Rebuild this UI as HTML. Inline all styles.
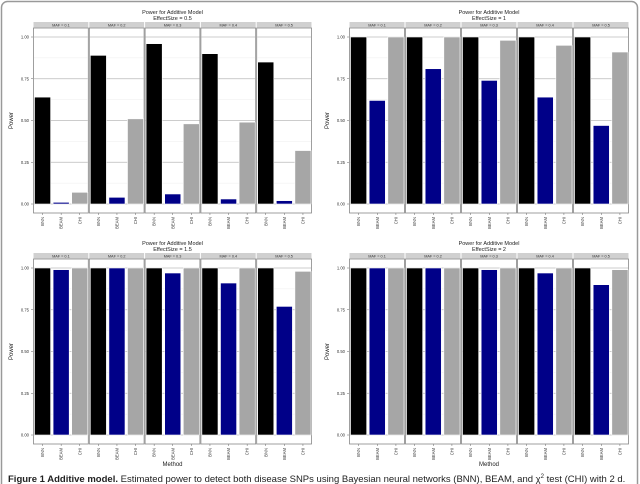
<!DOCTYPE html>
<html><head><meta charset="utf-8"><style>
body{margin:0;background:#fff;width:640px;height:484px;overflow:hidden;font-family:"Liberation Sans",sans-serif}
svg{display:block}
</style></head><body>
<svg id="fig" width="640" height="484" viewBox="0 0 640 484" xmlns="http://www.w3.org/2000/svg">
<rect x="1.5" y="1.5" width="636" height="495" rx="6" fill="#fff" stroke="#999" stroke-width="1.5"/>
<text x="8" y="482" font-size="9.5" fill="#222"><tspan font-weight="bold">Figure 1 Additive model.</tspan> Estimated power to detect both disease SNPs using Bayesian neural networks (BNN), BEAM, and χ<tspan font-size="6" dy="-4">2</tspan><tspan dy="4"> test (CHI) with 2 d.</tspan></text>
</svg>
<script>
const methods = ["BNN","BEAM","CHI"];
const mafLabels = ["MAF = 0.1","MAF = 0.2","MAF = 0.3","MAF = 0.4","MAF = 0.5"];
const yTicks = [0,0.25,0.5,0.75,1];
const yTickLabels = ["0.00","0.25","0.50","0.75","1.00"];
const effectSizes = ["0.5","1","1.5","2"];
const bnn05 = [0.64,0.89,0.96,0.90,0.85];
const beam05 = [0.01,0.04,0.06,0.03,0.02];
const chi05 = [0.07,0.51,0.48,0.49,0.32];
const bnn1 = [1,1,1,1,1];
const beam1 = [0.62,0.81,0.74,0.64,0.47];
const chi1 = [1,1,0.98,0.95,0.91];
const bnn15 = [1,1,1,1,1];
const beam15 = [0.99,1,0.97,0.91,0.77];
const chi15 = [1,1,1,1,0.98];
const bnn2 = [1,1,1,1,1];
const beam2 = [1,1,0.99,0.97,0.90];
const chi2 = [1,1,1,1,0.99];

const NS="http://www.w3.org/2000/svg";
const svg=document.getElementById('fig');
function mk(tag,attrs,parent){const e=document.createElementNS(NS,tag);for(const k in attrs)e.setAttribute(k,attrs[k]);(parent||svg).appendChild(e);return e;}
const colors=["#000000","#000088","#a6a6a6"];
const panels=[
 {x0:33,x1:312,y0:37,y1:204,strip:22,ttl:10,es:0,data:[bnn05,beam05,chi05],method:false},
 {x0:349,x1:629,y0:37,y1:204,strip:22,ttl:10,es:1,data:[bnn1,beam1,chi1],method:false},
 {x0:33,x1:312,y0:268,y1:435,strip:253,ttl:241,es:2,data:[bnn15,beam15,chi15],method:true},
 {x0:349,x1:629,y0:268,y1:435,strip:253,ttl:241,es:3,data:[bnn2,beam2,chi2],method:true}
];
panels.forEach((p,pi)=>{
 const g=mk('g',{});
 
 
 const cx=(p.x0+p.x1)/2;
 const t1=mk('text',{x:cx,y:p.ttl+4,'font-size':5.5,'text-anchor':'middle',fill:'#222'},g);
 t1.textContent='Power for Additive Model';
 
 
 const t2=mk('text',{x:cx,y:p.ttl+10,'font-size':5.5,'text-anchor':'middle',fill:'#222'},g);
 t2.textContent='EffectSize = '+effectSizes[p.es];
 
 
 const yS=v=>p.y1-(p.y1-p.y0)*v;
 const fw=(p.x1-p.x0)/5;
 const bottom=p.y1+9;
 // y ticks
 yTicks.forEach((v,i)=>{
  const tl=mk('text',{x:p.x0-4,y:yS(v)+1.5,'font-size':4.2,'text-anchor':'end',fill:'#333'},g);
  tl.textContent=yTickLabels[i];
  
  
  mk('line',{x1:p.x0-2,x2:p.x0,y1:yS(v),y2:yS(v),stroke:'#666','stroke-width':0.5},g);
 });
 const yt=mk('text',{x:0,y:0,'font-size':6,'text-anchor':'middle',fill:'#222',transform:`translate(${p.x0-20},${(p.y0+p.y1)/2}) rotate(-90)`},g);
 yt.textContent='Power';
 
 
 if(p.method){
  const mt=mk('text',{x:cx,y:bottom+22,'font-size':6,'text-anchor':'middle',fill:'#222'},g);
  mt.textContent='Method';
  
  
 }
 for(let f=0;f<5;f++){
  const fx=p.x0+f*fw;
  const st=mk('rect',{x:fx+0.5,y:p.strip,width:fw-1,height:5.5,fill:'#d0d0d0'},g);
  
  
  const stt=mk('text',{x:fx+fw/2,y:p.strip+4.3,'font-size':3.8,'text-anchor':'middle',fill:'#333'},g);
  stt.textContent=mafLabels[f];
  
  
  mk('rect',{x:fx+0.5,y:p.strip+6,width:fw-1,height:bottom-p.strip-6,fill:'#fff',stroke:'#888','stroke-width':0.8},g);
  yTicks.forEach(v=>mk('line',{x1:fx+1,x2:fx+fw-1,y1:yS(v),y2:yS(v),stroke:'#bbb','stroke-width':0.8},g));
  [0.125,0.375,0.625,0.875].forEach(v=>mk('line',{x1:fx+1,x2:fx+fw-1,y1:yS(v),y2:yS(v),stroke:'#eee','stroke-width':0.5},g));
  const bw=fw/3;
  methods.forEach((m,mi)=>{
   const v=p.data[mi][f];
   const bx=fx+mi*bw+1.5;
   const b=mk('rect',{x:bx,y:yS(v),width:bw-2.5,height:p.y1-yS(v),fill:colors[mi],stroke:'#fff','stroke-width':0.6},g);
   
   
   const lx=bx+(bw-2.5)/2;
   mk('line',{x1:lx,x2:lx,y1:bottom,y2:bottom+2,stroke:'#666','stroke-width':0.5},g);
   const xl=mk('text',{x:0,y:0,'font-size':4.2,'text-anchor':'end',fill:'#333',transform:`translate(${lx+1.5},${bottom+4}) rotate(-90)`},g);
   xl.textContent=m;
   
   
  });
 }
});
</script>
</body></html>
